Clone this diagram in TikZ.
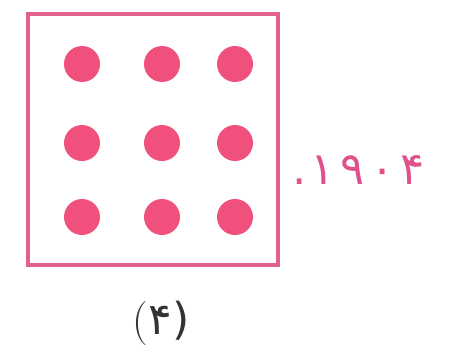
\documentclass[tikz,border=0pt]{standalone}
\usepackage{fontspec}
\newfontfamily\digitfont{DejaVu Sans}
\definecolor{boxpink}{HTML}{E2628C}
\definecolor{dotpink}{HTML}{F0507C}
\definecolor{txtpink}{HTML}{E0508A}
\begin{document}
\begin{tikzpicture}[x=1pt,y=-1pt,
  dot/.style={circle,fill=dotpink,inner sep=0pt,minimum size=36pt},
  frame/.style={draw=boxpink,line width=3.2pt}]
\useasboundingbox (0,0) rectangle (462,361);
\node[frame,minimum width=250pt,minimum height=251pt,inner sep=0pt] (box) at (153,139.5) {};
\foreach \c [count=\i] in {82,162,235}{
  \foreach \r [count=\j] in {64,143,217}{
    \node[dot] (d\i\j) at (\c,\r) {};
  }
}
\node[text=txtpink,anchor=base west,inner sep=0pt] (num) at (292,184) {\digitfont\fontsize{45}{48}\selectfont .\hspace{4pt}\char"06F1\hspace{6pt}\char"06F9\hspace{6pt}\char"06F0\hspace{6pt}\char"06F4};
\node[inner sep=0pt,text=black!80,anchor=base] (lab) at (161,334) {\fontsize{44}{46}\selectfont(\digitfont\char"06F4)};
\end{tikzpicture}
\end{document}
